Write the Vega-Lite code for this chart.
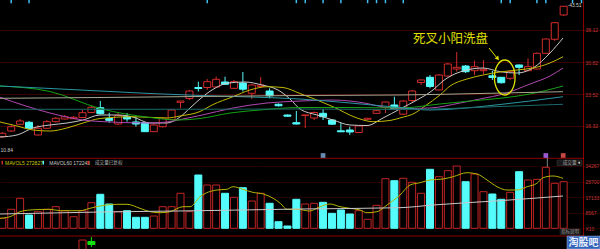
{
"$schema":"https://vega.github.io/schema/vega-lite/v6.json",
"width":600,"height":249,
"autosize":{"type":"none"},
"padding":0,
"background":"#000000",
"config":{"view":{"stroke":null},"text":{"font":"Liberation Sans"},"axis":{"labelFont":"Liberation Sans"},"scale":{"continuousPadding":0}},
"datasets":{
"k":[
{"i":0,"o":13.89,"c":14.66,"h":14.96,"l":13.59,"v":5500,"d":"u"},
{"i":1,"o":15.18,"c":16.16,"h":16.55,"l":14.96,"v":10450,"d":"u"},
{"i":2,"o":16.71,"c":17.46,"h":17.91,"l":16.55,"v":16500,"d":"u"},
{"i":3,"o":17.16,"c":15.80,"h":17.46,"l":15.64,"v":7315,"d":"d"},
{"i":4,"o":14.28,"c":15.80,"h":16.55,"l":14.16,"v":9130,"d":"u"},
{"i":5,"o":15.80,"c":17.30,"h":17.68,"l":15.64,"v":10450,"d":"u"},
{"i":6,"o":17.30,"c":18.07,"h":18.36,"l":17.11,"v":11880,"d":"u"},
{"i":7,"o":17.91,"c":18.43,"h":18.82,"l":17.80,"v":9680,"d":"u"},
{"i":8,"o":17.98,"c":18.30,"h":18.59,"l":17.91,"v":6380,"d":"u"},
{"i":9,"o":18.25,"c":19.34,"h":19.95,"l":18.14,"v":9680,"d":"u"},
{"i":10,"o":19.39,"c":20.57,"h":20.86,"l":19.27,"v":14080,"d":"u"},
{"i":11,"o":20.47,"c":19.11,"h":21.99,"l":18.93,"v":18700,"d":"d"},
{"i":12,"o":18.02,"c":17.61,"h":19.34,"l":17.07,"v":13365,"d":"d"},
{"i":13,"o":16.77,"c":18.70,"h":19.27,"l":16.55,"v":9130,"d":"u"},
{"i":14,"o":18.43,"c":17.91,"h":19.27,"l":17.30,"v":9680,"d":"d"},
{"i":15,"o":17.23,"c":16.77,"h":18.43,"l":16.16,"v":6050,"d":"d"},
{"i":16,"o":17.11,"c":15.03,"h":17.23,"l":14.96,"v":6050,"d":"d"},
{"i":17,"o":15.03,"c":16.55,"h":16.77,"l":14.96,"v":6765,"d":"u"},
{"i":18,"o":16.16,"c":18.07,"h":18.36,"l":15.98,"v":11880,"d":"u"},
{"i":19,"o":17.80,"c":19.95,"h":20.18,"l":17.68,"v":11880,"d":"u"},
{"i":20,"o":21.70,"c":21.99,"h":21.99,"l":20.34,"v":19250,"d":"u"},
{"i":21,"o":22.56,"c":24.27,"h":24.50,"l":22.22,"v":9130,"d":"u"},
{"i":22,"o":25.06,"c":24.84,"h":26.38,"l":24.15,"v":29315,"d":"d"},
{"i":23,"o":25.06,"c":26.38,"h":26.99,"l":24.50,"v":23815,"d":"u"},
{"i":24,"o":25.18,"c":26.92,"h":27.56,"l":24.95,"v":23815,"d":"u"},
{"i":25,"o":26.31,"c":25.79,"h":27.51,"l":25.63,"v":19250,"d":"d"},
{"i":26,"o":24.88,"c":26.38,"h":26.77,"l":24.72,"v":17050,"d":"u"},
{"i":27,"o":26.08,"c":24.68,"h":28.58,"l":24.15,"v":22330,"d":"d"},
{"i":28,"o":23.75,"c":25.63,"h":25.86,"l":22.45,"v":15015,"d":"u"},
{"i":29,"o":25.29,"c":25.63,"h":27.45,"l":25.06,"v":19250,"d":"u"},
{"i":30,"o":24.27,"c":23.18,"h":24.88,"l":22.61,"v":13750,"d":"d"},
{"i":31,"o":21.25,"c":20.91,"h":21.43,"l":20.75,"v":3630,"d":"d"},
{"i":32,"o":18.82,"c":18.54,"h":18.93,"l":18.48,"v":1265,"d":"d"},
{"i":33,"o":17.07,"c":16.77,"h":19.73,"l":16.66,"v":15950,"d":"d"},
{"i":34,"o":18.68,"c":18.84,"h":18.84,"l":15.87,"v":13365,"d":"u"},
{"i":35,"o":18.14,"c":19.39,"h":19.61,"l":17.68,"v":13750,"d":"u"},
{"i":36,"o":19.20,"c":18.43,"h":20.13,"l":17.68,"v":14300,"d":"d"},
{"i":37,"o":17.68,"c":16.73,"h":17.91,"l":16.55,"v":8250,"d":"d"},
{"i":38,"o":15.23,"c":15.00,"h":17.07,"l":14.96,"v":10065,"d":"d"},
{"i":39,"o":15.41,"c":14.96,"h":16.16,"l":14.28,"v":7865,"d":"d"},
{"i":40,"o":14.84,"c":16.32,"h":16.43,"l":14.73,"v":9680,"d":"u"},
{"i":41,"o":17.84,"c":18.07,"h":18.14,"l":17.80,"v":4950,"d":"u"},
{"i":42,"o":19.20,"c":19.80,"h":19.95,"l":19.16,"v":12650,"d":"u"},
{"i":43,"o":20.52,"c":21.77,"h":21.88,"l":19.27,"v":27280,"d":"u"},
{"i":44,"o":21.09,"c":20.07,"h":22.97,"l":19.95,"v":26180,"d":"d"},
{"i":45,"o":19.00,"c":21.99,"h":22.22,"l":18.82,"v":27500,"d":"u"},
{"i":46,"o":22.11,"c":24.27,"h":24.50,"l":21.70,"v":25300,"d":"u"},
{"i":47,"o":26.20,"c":26.77,"h":26.88,"l":25.63,"v":19250,"d":"u"},
{"i":48,"o":27.38,"c":25.29,"h":27.90,"l":24.88,"v":32450,"d":"d"},
{"i":49,"o":24.50,"c":27.90,"h":28.13,"l":24.38,"v":28380,"d":"u"},
{"i":50,"o":27.67,"c":30.40,"h":30.63,"l":27.56,"v":31680,"d":"u"},
{"i":51,"o":29.26,"c":29.65,"h":33.12,"l":28.65,"v":34265,"d":"u"},
{"i":52,"o":29.94,"c":28.65,"h":30.17,"l":28.35,"v":25630,"d":"d"},
{"i":53,"o":28.88,"c":29.79,"h":31.15,"l":27.90,"v":29865,"d":"u"},
{"i":54,"o":28.88,"c":29.19,"h":31.31,"l":28.13,"v":20130,"d":"u"},
{"i":55,"o":27.72,"c":27.33,"h":28.81,"l":26.77,"v":18865,"d":"d"},
{"i":56,"o":27.38,"c":26.15,"h":27.45,"l":25.97,"v":15950,"d":"d"},
{"i":57,"o":27.15,"c":28.65,"h":28.81,"l":26.77,"v":19800,"d":"u"},
{"i":58,"o":30.17,"c":29.65,"h":30.28,"l":27.90,"v":31130,"d":"d"},
{"i":59,"o":28.88,"c":29.79,"h":31.69,"l":28.81,"v":26565,"d":"u"},
{"i":60,"o":29.26,"c":32.83,"h":33.01,"l":29.15,"v":26950,"d":"u"},
{"i":61,"o":32.83,"c":36.08,"h":36.19,"l":32.67,"v":33550,"d":"u"},
{"i":62,"o":36.01,"c":39.78,"h":39.94,"l":35.62,"v":24750,"d":"u"},
{"i":63,"o":41.53,"c":43.51,"h":43.51,"l":41.30,"v":25630,"d":"u"}
],
"ma":[
{"s":"5","i":-0.26,"p":13.82},{"s":"5","i":1.65,"p":14.28},{"s":"5","i":3.45,"p":15.87},{"s":"5","i":5.35,"p":16.55},{"s":"5","i":7.26,"p":17.0},{"s":"5","i":9.06,"p":17.68},{"s":"5","i":10.97,"p":18.82},{"s":"5","i":12.87,"p":18.82},{"s":"5","i":14.67,"p":18.36},{"s":"5","i":16.58,"p":17.0},{"s":"5","i":18.48,"p":17.0},{"s":"5","i":19.94,"p":18.36},{"s":"5","i":21.07,"p":20.41},{"s":"5","i":22.19,"p":22.45},{"s":"5","i":23.54,"p":24.5},{"s":"5","i":25.33,"p":26.08},{"s":"5","i":27.24,"p":26.31},{"s":"5","i":29.15,"p":25.63},{"s":"5","i":30.94,"p":24.5},{"s":"5","i":32.29,"p":22.45},{"s":"5","i":33.41,"p":20.18},{"s":"5","i":35.32,"p":18.82},{"s":"5","i":37.11,"p":17.68},{"s":"5","i":39.02,"p":16.55},{"s":"5","i":40.93,"p":16.43},{"s":"5","i":42.73,"p":18.14},{"s":"5","i":44.63,"p":20.18},{"s":"5","i":46.54,"p":22.22},{"s":"5","i":48.34,"p":24.5},{"s":"5","i":49.46,"p":26.54},{"s":"5","i":52.15,"p":29.04},{"s":"5","i":53.95,"p":29.49},{"s":"5","i":55.86,"p":28.65},{"s":"5","i":57.77,"p":28.35},{"s":"5","i":59.56,"p":29.49},{"s":"5","i":61.47,"p":32.9},{"s":"5","i":62.93,"p":36.3},
{"s":"10","i":-0.26,"p":17.23},{"s":"10","i":1.65,"p":16.32},{"s":"10","i":3.45,"p":15.41},{"s":"10","i":5.35,"p":15.18},{"s":"10","i":7.26,"p":15.87},{"s":"10","i":9.06,"p":17.0},{"s":"10","i":10.97,"p":18.02},{"s":"10","i":14.67,"p":18.43},{"s":"10","i":18.48,"p":18.14},{"s":"10","i":19.94,"p":18.59},{"s":"10","i":22.19,"p":19.61},{"s":"10","i":23.54,"p":21.09},{"s":"10","i":25.89,"p":22.97},{"s":"10","i":27.8,"p":24.5},{"s":"10","i":29.71,"p":25.24},{"s":"10","i":31.5,"p":25.06},{"s":"10","i":33.41,"p":23.7},{"s":"10","i":37.11,"p":20.7},{"s":"10","i":39.81,"p":18.14},{"s":"10","i":41.61,"p":17.3},{"s":"10","i":43.51,"p":17.57},{"s":"10","i":44.63,"p":18.14},{"s":"10","i":46.32,"p":19.27},{"s":"10","i":47.44,"p":20.86},{"s":"10","i":49.12,"p":23.36},{"s":"10","i":50.25,"p":25.4},{"s":"10","i":52.15,"p":26.99},{"s":"10","i":53.95,"p":27.9},{"s":"10","i":55.86,"p":28.58},{"s":"10","i":57.77,"p":29.04},{"s":"10","i":59.56,"p":29.49},{"s":"10","i":61.47,"p":30.63},{"s":"10","i":62.93,"p":32.06},
{"s":"20","i":-0.26,"p":22.84},{"s":"20","i":5.35,"p":19.27},{"s":"20","i":9.06,"p":17.68},{"s":"20","i":10.97,"p":17.34},{"s":"20","i":16.58,"p":17.0},{"s":"20","i":18.48,"p":17.23},{"s":"20","i":20.28,"p":17.91},{"s":"20","i":22.19,"p":18.7},{"s":"20","i":25.89,"p":20.41},{"s":"20","i":29.71,"p":21.54},{"s":"20","i":33.41,"p":21.99},{"s":"20","i":37.11,"p":22.22},{"s":"20","i":39.02,"p":21.99},{"s":"20","i":40.93,"p":21.43},{"s":"20","i":42.73,"p":20.63},{"s":"20","i":44.63,"p":20.29},{"s":"20","i":48.0,"p":20.41},{"s":"20","i":51.37,"p":21.54},{"s":"20","i":53.61,"p":22.45},{"s":"20","i":56.42,"p":23.7},{"s":"20","i":59.23,"p":25.86},{"s":"20","i":61.47,"p":27.67},{"s":"20","i":62.93,"p":29.49},
{"s":"30","i":-0.26,"p":25.4},{"s":"30","i":5.35,"p":24.15},{"s":"30","i":10.97,"p":20.29},{"s":"30","i":16.58,"p":18.25},{"s":"30","i":19.72,"p":17.68},{"s":"30","i":22.19,"p":18.02},{"s":"30","i":25.56,"p":19.27},{"s":"30","i":28.92,"p":19.95},{"s":"30","i":33.41,"p":20.52},{"s":"30","i":39.02,"p":20.52},{"s":"30","i":44.63,"p":20.41},{"s":"30","i":49.12,"p":21.32},{"s":"30","i":52.49,"p":21.99},{"s":"30","i":55.86,"p":22.61},{"s":"30","i":59.23,"p":23.59},{"s":"30","i":62.93,"p":25.4},
{"s":"60","i":-0.26,"p":25.4},{"s":"60","i":5.35,"p":24.84},{"s":"60","i":10.97,"p":24.27},{"s":"60","i":16.58,"p":23.7},{"s":"60","i":22.19,"p":23.25},{"s":"60","i":27.8,"p":22.91},{"s":"60","i":33.41,"p":22.45},{"s":"60","i":39.02,"p":21.54},{"s":"60","i":44.63,"p":20.52},{"s":"60","i":48.0,"p":19.95},{"s":"60","i":51.37,"p":20.29},{"s":"60","i":55.86,"p":21.2},{"s":"60","i":59.23,"p":21.99},{"s":"60","i":62.93,"p":22.97},
{"s":"120","i":-0.26,"p":22.61},{"s":"120","i":10.97,"p":22.79},{"s":"120","i":22.19,"p":23.02},{"s":"120","i":33.41,"p":23.25},{"s":"120","i":44.63,"p":23.36},{"s":"120","i":53.61,"p":23.7},{"s":"120","i":62.93,"p":24.11},
{"s":"250","i":-0.26,"p":20.11},{"s":"250","i":22.19,"p":20.13},{"s":"250","i":33.41,"p":20.18},{"s":"250","i":44.63,"p":20.07},{"s":"250","i":50.25,"p":20.29},{"s":"250","i":55.86,"p":20.75},{"s":"250","i":62.93,"p":21.25}
],
"vma":[
{"s":"v5","i":-0.26,"v":5500},{"s":"v5","i":0.86,"v":6380},{"s":"v5","i":2.0,"v":9130},{"s":"v5","i":3.1,"v":10065},{"s":"v5","i":5.35,"v":10450},{"s":"v5","i":6.5,"v":9680},{"s":"v5","i":8.72,"v":9680},{"s":"v5","i":9.84,"v":11000},{"s":"v5","i":10.97,"v":12265},{"s":"v5","i":12.87,"v":13200},{"s":"v5","i":14.0,"v":13200},{"s":"v5","i":15.45,"v":11000},{"s":"v5","i":16.58,"v":9130},{"s":"v5","i":17.7,"v":8580},{"s":"v5","i":18.82,"v":9130},{"s":"v5","i":20.28,"v":11880},{"s":"v5","i":21.07,"v":11880},{"s":"v5","i":22.19,"v":17380},{"s":"v5","i":24.1,"v":21065},{"s":"v5","i":25.2,"v":21450},{"s":"v5","i":25.89,"v":22880},{"s":"v5","i":27.0,"v":21450},{"s":"v5","i":28.1,"v":19800},{"s":"v5","i":29.3,"v":18865},{"s":"v5","i":30.4,"v":16500},{"s":"v5","i":31.2,"v":13750},{"s":"v5","i":31.95,"v":10450},{"s":"v5","i":33.1,"v":10450},{"s":"v5","i":34.5,"v":9515},{"s":"v5","i":35.66,"v":11880},{"s":"v5","i":36.78,"v":13365},{"s":"v5","i":37.9,"v":11880},{"s":"v5","i":39.0,"v":11000},{"s":"v5","i":40.15,"v":10065},{"s":"v5","i":40.93,"v":8580},{"s":"v5","i":42.05,"v":9130},{"s":"v5","i":43.18,"v":12815},{"s":"v5","i":44.63,"v":18315},{"s":"v5","i":45.76,"v":23815},{"s":"v5","i":46.88,"v":25080},{"s":"v5","i":48.0,"v":26565},{"s":"v5","i":49.46,"v":27115},{"s":"v5","i":50.6,"v":28380},{"s":"v5","i":52.15,"v":30580},{"s":"v5","i":53.28,"v":29865},{"s":"v5","i":54.4,"v":26565},{"s":"v5","i":55.52,"v":22880},{"s":"v5","i":56.64,"v":21065},{"s":"v5","i":57.77,"v":21065},{"s":"v5","i":58.9,"v":22880},{"s":"v5","i":60.0,"v":24750},{"s":"v5","i":60.69,"v":27830},{"s":"v5","i":61.8,"v":28765},{"s":"v5","i":62.93,"v":27500},
{"s":"v60","i":-0.26,"v":7865},{"s":"v60","i":10.97,"v":8965},{"s":"v60","i":22.19,"v":9680},{"s":"v60","i":33.41,"v":10615},{"s":"v60","i":44.63,"v":11330},{"s":"v60","i":48.34,"v":12815},{"s":"v60","i":52.15,"v":14080},{"s":"v60","i":55.86,"v":15180},{"s":"v60","i":59.56,"v":16500},{"s":"v60","i":62.93,"v":17765}
],
"ev":[{"i":1},{"i":3},{"i":23},{"i":33},{"i":34},{"i":36},{"i":38},{"i":41},{"i":42},{"i":43},{"i":45},{"i":56},{"i":57},{"i":60},{"i":61},{"i":64},{"i":65}],
"ind":[{"i":9,"o":-6435,"c":-12000,"h":-6435,"l":-12000,"d":"u"},{"i":10,"o":-7260,"c":-8910,"h":-4785,"l":-10285,"d":"g"}]
},
"resolve":{"scale":{"y":"independent"},"axis":{"y":"independent"}},
"layer":[
{"layer":[
{"data":{"name":"k"},"mark":{"type":"rule","strokeWidth":1},
 "encoding":{
  "x":{"field":"i","type":"quantitative","scale":{"domain":[-0.258,67.08],"nice":false,"zero":false,"padding":0},"axis":null},
  "y":{"field":"l","type":"quantitative","scale":{"domain":[-11.611,44.932],"nice":false,"zero":false},
       "axis":{"orient":"right","offset":-17,"values":[16.32,23.52,30.82,38.12],"format":".2f","title":null,"domain":true,"domainColor":"#8c0000","ticks":false,"grid":true,"gridColor":"#3a0000","labelColor":"#c03838","labelFontSize":5,"labelPadding":2,"labelOverlap":false}},
  "y2":{"field":"h"},
  "color":{"condition":{"test":"datum.d == 'u'","value":"#d22c2c"},"value":"#54fcfc"}}},
{"data":{"name":"ev"},"mark":{"type":"rule","color":"#40c0f0","strokeWidth":1.5},
 "encoding":{"x":{"field":"i","type":"quantitative","axis":null},"y":{"datum":44.93,"type":"quantitative"},"y2":{"datum":44.2}}},
{"data":{"name":"k"},"mark":{"type":"bar","size":7,"strokeWidth":1},
 "encoding":{
  "x":{"field":"i","type":"quantitative","scale":{"domain":[-0.258,67.08],"nice":false,"zero":false,"padding":0},"axis":null},
  "y":{"field":"o","type":"quantitative"},
  "y2":{"field":"c"},
  "fill":{"condition":{"test":"datum.d == 'u'","value":"#000000"},"value":"#54fcfc"},
  "stroke":{"condition":{"test":"datum.d == 'u'","value":"#d22c2c"},"value":"#54fcfc"}}},
{"data":{"name":"ma"},"mark":{"type":"line","strokeWidth":1,"interpolate":"monotone"},
 "encoding":{
  "x":{"field":"i","type":"quantitative","axis":null},
  "y":{"field":"p","type":"quantitative"},
  "color":{"field":"s","type":"nominal","legend":null,"scale":{"domain":["5","10","20","30","60","120","250","v5","v60"],"range":["#c8c8c8","#c0b800","#b048b0","#14a014","#2a96a0","#a8a890","#1c6a6a","#b4b400","#c8c8c8"]}}}},
{"data":{"values":[{}]},"mark":{"type":"text","text":"10.84","align":"left","baseline":"middle","fontSize":5,"color":"#c8c8c8"},
 "encoding":{"x":{"datum":-0.2,"type":"quantitative","axis":null},"y":{"datum":10.84,"type":"quantitative"}}},
{"data":{"values":[{}]},"mark":{"type":"text","text":"-43.51","align":"left","baseline":"middle","fontSize":5,"color":"#d0d0d0"},
 "encoding":{"x":{"datum":63.43,"type":"quantitative","axis":null},"y":{"datum":43.75,"type":"quantitative"}}},
{"data":{"values":[{}]},"mark":{"type":"text","text":"死叉小阳洗盘","align":"center","baseline":"middle","fontSize":12.5,"font":"Noto Sans CJK SC","color":"#e0e000"},
 "encoding":{"x":{"datum":50.3,"type":"quantitative","axis":null},"y":{"datum":36.08,"type":"quantitative"}}},
{"data":{"values":[{}]},"mark":{"type":"rule","color":"#e0e000","strokeWidth":1},
 "encoding":{"x":{"datum":54.63,"type":"quantitative","axis":null},"y":{"datum":34.03,"type":"quantitative"},"x2":{"datum":55.5},"y2":{"datum":31.8}}},
{"data":{"values":[{}]},"mark":{"type":"point","shape":"triangle-up","angle":141,"size":22,"filled":true,"opacity":1,"color":"#e0e000"},
 "encoding":{"x":{"datum":55.6,"type":"quantitative","axis":null},"y":{"datum":31.62,"type":"quantitative"}}},
{"data":{"values":[{}]},"mark":{"type":"point","shape":"M0,-1A0.59,1,0,1,1,0,1A0.59,1,0,1,1,0,-1Z","size":1225,"filled":false,"opacity":1,"strokeWidth":1.3,"color":"#e0e000"},
 "encoding":{"x":{"datum":56.39,"type":"quantitative","axis":null},"y":{"datum":27.33,"type":"quantitative"}}}
]},
{"layer":[
{"data":{"name":"k"},"mark":{"type":"bar","size":7,"strokeWidth":1},
 "encoding":{
  "x":{"field":"i","type":"quantitative","scale":{"domain":[-0.258,67.08],"nice":false,"zero":false,"padding":0},"axis":null},
  "y":{"field":"v","type":"quantitative","scale":{"domain":[-11385,125565],"nice":false,"zero":false},
       "axis":{"orient":"right","offset":-17,"values":[0,8567,17133,25700,34267],"format":"d","labelExpr":"datum.value == 0 ? 'X10' : datum.label","title":null,"domain":false,"ticks":false,"grid":true,"gridColor":"#260000","labelColor":"#c03838","labelFontSize":5,"labelPadding":2,"labelOverlap":false}},
  "y2":{"datum":0},
  "fill":{"condition":{"test":"datum.d == 'u'","value":"#000000"},"value":"#54fcfc"},
  "stroke":{"condition":{"test":"datum.d == 'u'","value":"#c02424"},"value":"#54fcfc"}}},
{"data":{"name":"vma"},"mark":{"type":"line","strokeWidth":1,"interpolate":"monotone"},
 "encoding":{
  "x":{"field":"i","type":"quantitative","axis":null},
  "y":{"field":"v","type":"quantitative"},
  "color":{"field":"s","type":"nominal","legend":null,"scale":{"domain":["5","10","20","30","60","120","250","v5","v60"],"range":["#c8c8c8","#c0b800","#b048b0","#14a014","#2a96a0","#a8a890","#1c6a6a","#b4b400","#c8c8c8"]}}}},
{"data":{"values":[{}]},"mark":{"type":"rule","color":"#8c0000","strokeWidth":1},
 "encoding":{"x":{"datum":-0.258,"type":"quantitative","axis":null},"x2":{"datum":65.17},"y":{"datum":38500,"type":"quantitative"}}},
{"data":{"values":[{}]},"mark":{"type":"rule","color":"#8c0000","strokeWidth":1},
 "encoding":{"x":{"datum":-0.258,"type":"quantitative","axis":null},"x2":{"datum":65.17},"y":{"datum":-4235,"type":"quantitative"}}},
{"data":{"values":[{}]},"mark":{"type":"text","text":"MAVOL5 272827","align":"left","baseline":"middle","fontSize":5,"color":"#c8c800"},
 "encoding":{"x":{"datum":0.3,"type":"quantitative","axis":null},"y":{"datum":36080,"type":"quantitative"}}},
{"data":{"values":[{}]},"mark":{"type":"text","text":"MAVOL60 172243","align":"left","baseline":"middle","fontSize":5,"color":"#c8c8c8"},
 "encoding":{"x":{"datum":5.27,"type":"quantitative","axis":null},"y":{"datum":36080,"type":"quantitative"}}},
{"data":{"values":[{}]},"mark":{"type":"text","text":"成交量已复权","align":"left","baseline":"middle","fontSize":4.6,"font":"Noto Sans CJK SC","color":"#b4b4b4"},
 "encoding":{"x":{"datum":10.4,"type":"quantitative","axis":null},"y":{"datum":36080,"type":"quantitative"}}},
{"data":{"values":[{}]},"mark":{"type":"rule","color":"#d22c2c","strokeWidth":1.5},
 "encoding":{"x":{"datum":0.0,"type":"quantitative","axis":null},"y":{"datum":37125,"type":"quantitative"},"y2":{"datum":35090}}},
{"data":{"values":[{}]},"mark":{"type":"rule","color":"#54fcfc","strokeWidth":1.5},
 "encoding":{"x":{"datum":4.6,"type":"quantitative","axis":null},"y":{"datum":37125,"type":"quantitative"},"y2":{"datum":35090}}},
{"data":{"values":[{}]},"mark":{"type":"rule","color":"#d22c2c","strokeWidth":1.5},
 "encoding":{"x":{"datum":9.65,"type":"quantitative","axis":null},"y":{"datum":37125,"type":"quantitative"},"y2":{"datum":35090}}},
{"data":{"values":[{}]},"mark":{"type":"rule","color":"#808080","strokeWidth":1},
 "encoding":{"x":{"datum":61.17,"type":"quantitative","axis":null},"y":{"datum":40315,"type":"quantitative"},"y2":{"datum":33715}}},
{"data":{"values":[{}]},"mark":{"type":"point","shape":"square","size":22,"filled":true,"opacity":1,"color":"#6a8cb4"},
 "encoding":{"x":{"datum":36.0,"type":"quantitative","axis":null},"y":{"datum":40040,"type":"quantitative"}}},
{"data":{"values":[{}]},"mark":{"type":"point","shape":"square","size":22,"filled":true,"opacity":1,"color":"#9a5ad2"},
 "encoding":{"x":{"datum":61.0,"type":"quantitative","axis":null},"y":{"datum":40040,"type":"quantitative"}}},
{"data":{"values":[{}]},"mark":{"type":"point","shape":"square","size":22,"filled":true,"opacity":1,"color":"#c84848"},
 "encoding":{"x":{"datum":62.95,"type":"quantitative","axis":null},"y":{"datum":40040,"type":"quantitative"}}},
{"data":{"values":[{}]},"mark":{"type":"rect","fill":"#181818","stroke":"#3a3a3a","strokeWidth":0.5},
 "encoding":{"x":{"datum":62.25,"type":"quantitative","axis":null},"x2":{"datum":65.06},"y":{"datum":37565,"type":"quantitative"},"y2":{"datum":34540}}},
{"data":{"values":[{}]},"mark":{"type":"text","text":"成交量","align":"left","baseline":"middle","fontSize":4.6,"font":"Noto Sans CJK SC","color":"#a0a0a0"},
 "encoding":{"x":{"datum":62.9,"type":"quantitative","axis":null},"y":{"datum":36080,"type":"quantitative"}}},
{"data":{"values":[{}]},"mark":{"type":"point","shape":"square","size":3,"filled":true,"opacity":1,"color":"#d0d0d0"},
 "encoding":{"x":{"datum":64.75,"type":"quantitative","axis":null},"y":{"datum":36080,"type":"quantitative"}}},
{"data":{"values":[{}]},"mark":{"type":"rect","fill":"#141414","stroke":"#3a3a3a","strokeWidth":0.5},
 "encoding":{"x":{"datum":62.6,"type":"quantitative","axis":null},"x2":{"datum":64.84},"y":{"datum":-385,"type":"quantitative"},"y2":{"datum":-3410}}},
{"data":{"values":[{}]},"mark":{"type":"text","text":"指标说明","align":"center","baseline":"middle","fontSize":4.4,"font":"Noto Sans CJK SC","color":"#a0a0a0"},
 "encoding":{"x":{"datum":63.72,"type":"quantitative","axis":null},"y":{"datum":-1900,"type":"quantitative"}}},
{"data":{"values":[{}]},"mark":{"type":"rect","fill":"#3464b8","stroke":"#a8c0f0","strokeWidth":0.5},
 "encoding":{"x":{"datum":63.38,"type":"quantitative","axis":null},"x2":{"datum":67.08},"y":{"datum":-4300,"type":"quantitative"},"y2":{"datum":-11385}}},
{"data":{"values":[{}]},"mark":{"type":"text","text":"淘股吧","align":"center","baseline":"middle","fontSize":10,"fontWeight":"bold","font":"Noto Sans CJK SC","color":"#e8f0ff"},
 "encoding":{"x":{"datum":65.23,"type":"quantitative","axis":null},"y":{"datum":-7850,"type":"quantitative"}}},
{"data":{"name":"ind"},"mark":{"type":"rule","strokeWidth":1},
 "encoding":{"x":{"field":"i","type":"quantitative","axis":null},"y":{"field":"l","type":"quantitative"},"y2":{"field":"h"},
  "color":{"condition":{"test":"datum.d == 'u'","value":"#c02424"},"value":"#10e010"}}},
{"data":{"name":"ind"},"mark":{"type":"bar","size":7,"strokeWidth":1},
 "encoding":{"x":{"field":"i","type":"quantitative","scale":{"domain":[-0.258,67.08],"nice":false,"zero":false,"padding":0},"axis":null},"y":{"field":"o","type":"quantitative"},"y2":{"field":"c"},
  "fill":{"condition":{"test":"datum.d == 'u'","value":"#000000"},"value":"#10e010"},
  "stroke":{"condition":{"test":"datum.d == 'u'","value":"#c02424"},"value":"#10e010"}}}
]}
]
}
